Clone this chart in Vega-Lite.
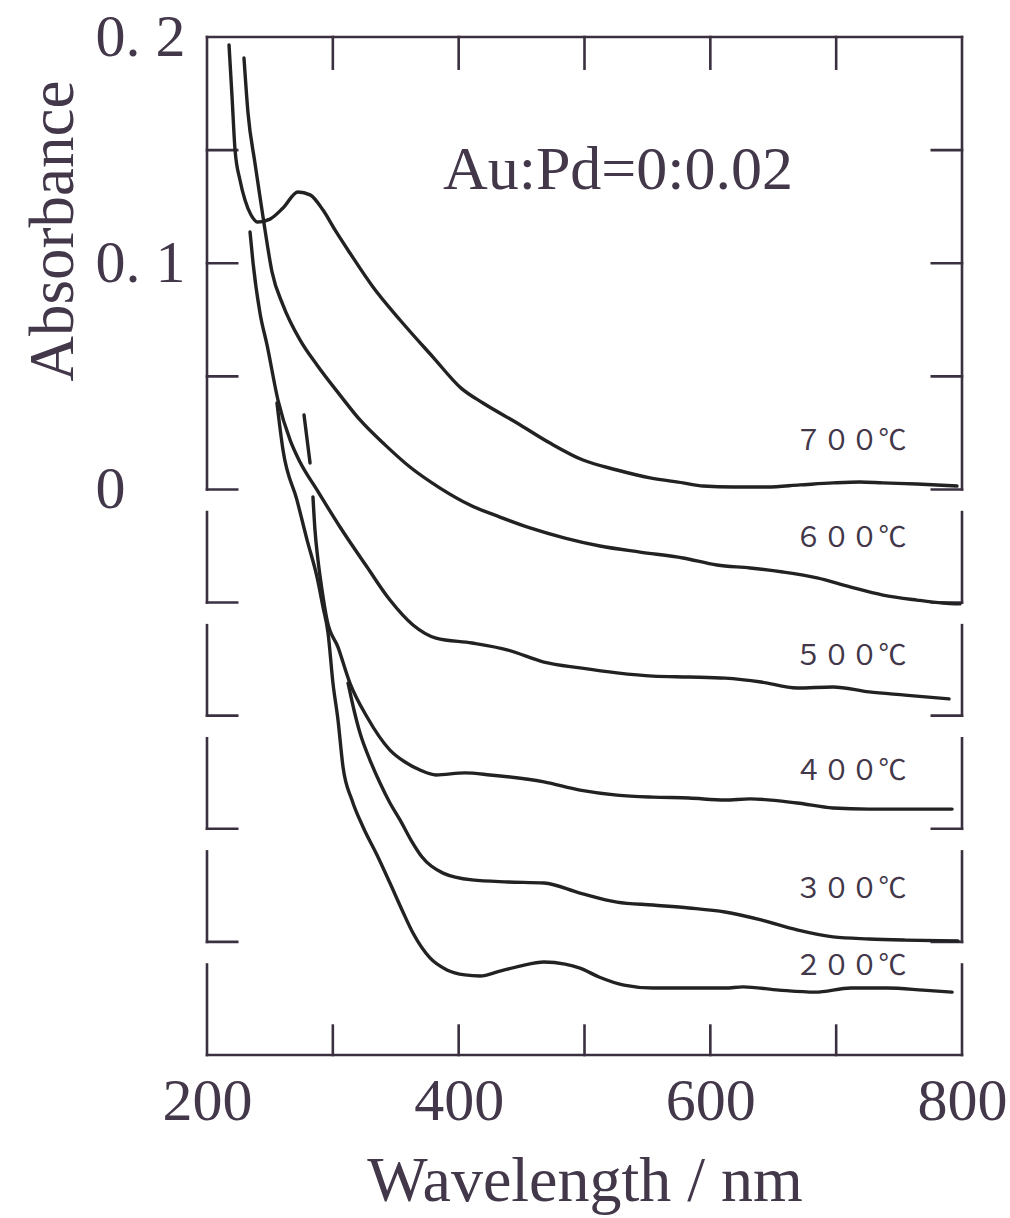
{
  "$schema": "https://vega.github.io/schema/vega-lite/v6.json",
  "width": 755,
  "height": 1018,
  "autosize": {"type": "none"},
  "padding": {"left": 207, "top": 37, "right": 48, "bottom": 163},
  "background": "#ffffff",
  "config": {
    "view": {"stroke": null},
    "font": "Liberation Serif",
    "axisX": {
      "ticks": false, "domain": false, "grid": false,
      "labelFont": "Liberation Serif", "labelFontSize": 60, "labelColor": "#43374a",
      "labelPadding": 17, "labelFlush": false, "labelOverlap": false, "labelBound": false,
      "titleFont": "Liberation Serif", "titleFontSize": 64,
      "titleFontWeight": "normal", "titleColor": "#43374a", "titlePadding": 18
    },
    "axisY": {
      "ticks": false, "domain": false, "grid": false,
      "labelFont": "Liberation Serif", "labelFontSize": 60, "labelColor": "#43374a",
      "labelAlign": "left", "labelBaseline": "middle", "labelPadding": 112,
      "labelFlush": false, "labelOverlap": false, "labelBound": false,
      "titleFont": "Liberation Serif", "titleFontSize": 63,
      "titleFontWeight": "normal", "titleColor": "#43374a",
      "titleAngle": 270, "titleAlign": "right", "titleBaseline": "alphabetic",
      "titleX": -135, "titleY": 43
    }
  },
  "datasets": {
    "frame": [
      {"x": 200, "x2": 800, "y": 0.2, "y2": 0.2},
      {"x": 200, "x2": 800, "y": -0.25, "y2": -0.25},
      {"x": 200, "x2": 200, "y": 0, "y2": 0.2},
      {"x": 800, "x2": 800, "y": 0, "y2": 0.2},
      {"x": 200, "x2": 224, "y": 0, "y2": 0},
      {"x": 200, "x2": 224, "y": 0.05, "y2": 0.05},
      {"x": 200, "x2": 224, "y": 0.1, "y2": 0.1},
      {"x": 200, "x2": 224, "y": 0.15, "y2": 0.15},
      {"x": 776, "x2": 800, "y": 0, "y2": 0},
      {"x": 776, "x2": 800, "y": 0.05, "y2": 0.05},
      {"x": 776, "x2": 800, "y": 0.1, "y2": 0.1},
      {"x": 776, "x2": 800, "y": 0.15, "y2": 0.15},
      {"x": 300, "x2": 300, "y": 0.2, "y2": 0.186},
      {"x": 400, "x2": 400, "y": 0.2, "y2": 0.186},
      {"x": 500, "x2": 500, "y": 0.2, "y2": 0.186},
      {"x": 600, "x2": 600, "y": 0.2, "y2": 0.186},
      {"x": 700, "x2": 700, "y": 0.2, "y2": 0.186},
      {"x": 300, "x2": 300, "y": -0.25, "y2": -0.237},
      {"x": 400, "x2": 400, "y": -0.25, "y2": -0.237},
      {"x": 500, "x2": 500, "y": -0.25, "y2": -0.237},
      {"x": 600, "x2": 600, "y": -0.25, "y2": -0.237},
      {"x": 700, "x2": 700, "y": -0.25, "y2": -0.237},
      {"x": 200, "x2": 200, "y": -0.01, "y2": -0.05},
      {"x": 200, "x2": 200, "y": -0.06, "y2": -0.1},
      {"x": 200, "x2": 200, "y": -0.11, "y2": -0.15},
      {"x": 200, "x2": 200, "y": -0.16, "y2": -0.2},
      {"x": 200, "x2": 200, "y": -0.21, "y2": -0.25},
      {"x": 200, "x2": 224, "y": -0.05, "y2": -0.05},
      {"x": 200, "x2": 224, "y": -0.1, "y2": -0.1},
      {"x": 200, "x2": 224, "y": -0.15, "y2": -0.15},
      {"x": 200, "x2": 224, "y": -0.2, "y2": -0.2},
      {"x": 800, "x2": 800, "y": -0.01, "y2": -0.05},
      {"x": 800, "x2": 800, "y": -0.06, "y2": -0.1},
      {"x": 800, "x2": 800, "y": -0.11, "y2": -0.15},
      {"x": 800, "x2": 800, "y": -0.16, "y2": -0.2},
      {"x": 800, "x2": 800, "y": -0.21, "y2": -0.25},
      {"x": 776, "x2": 800, "y": -0.05, "y2": -0.05},
      {"x": 776, "x2": 800, "y": -0.1, "y2": -0.1},
      {"x": 776, "x2": 800, "y": -0.15, "y2": -0.15},
      {"x": 776, "x2": 800, "y": -0.2, "y2": -0.2}
    ],
    "curves": [
      {"series": "700", "nm": 217.5, "abs": 0.1965},
      {"series": "700", "nm": 219.9, "abs": 0.1735},
      {"series": "700", "nm": 222.3, "abs": 0.15},
      {"series": "700", "nm": 226.2, "abs": 0.1368},
      {"series": "700", "nm": 230.2, "abs": 0.1279},
      {"series": "700", "nm": 235.0, "abs": 0.1213},
      {"series": "700", "nm": 240.5, "abs": 0.1182},
      {"series": "700", "nm": 250.1, "abs": 0.1195},
      {"series": "700", "nm": 260.4, "abs": 0.1244},
      {"series": "700", "nm": 272.3, "abs": 0.1315},
      {"series": "700", "nm": 281.9, "abs": 0.1302},
      {"series": "700", "nm": 292.2, "abs": 0.1235},
      {"series": "700", "nm": 301.7, "abs": 0.1147},
      {"series": "700", "nm": 313.6, "abs": 0.1045},
      {"series": "700", "nm": 331.9, "abs": 0.0895},
      {"series": "700", "nm": 353.4, "abs": 0.0749},
      {"series": "700", "nm": 379.6, "abs": 0.0585},
      {"series": "700", "nm": 401.9, "abs": 0.0448},
      {"series": "700", "nm": 419.3, "abs": 0.0382},
      {"series": "700", "nm": 446.4, "abs": 0.0294},
      {"series": "700", "nm": 472.6, "abs": 0.0205},
      {"series": "700", "nm": 498.8, "abs": 0.013},
      {"series": "700", "nm": 525.8, "abs": 0.0086},
      {"series": "700", "nm": 552.1, "abs": 0.0051},
      {"series": "700", "nm": 578.3, "abs": 0.0029},
      {"series": "700", "nm": 594.2, "abs": 0.0015},
      {"series": "700", "nm": 618.0, "abs": 0.0011},
      {"series": "700", "nm": 645.0, "abs": 0.0011},
      {"series": "700", "nm": 671.3, "abs": 0.002},
      {"series": "700", "nm": 697.5, "abs": 0.0029},
      {"series": "700", "nm": 718.9, "abs": 0.0033},
      {"series": "700", "nm": 737.2, "abs": 0.0029},
      {"series": "700", "nm": 764.2, "abs": 0.0024},
      {"series": "700", "nm": 796.0, "abs": 0.0015},

      {"series": "600", "nm": 229.4, "abs": 0.1907},
      {"series": "600", "nm": 232.6, "abs": 0.1664},
      {"series": "600", "nm": 238.1, "abs": 0.1443},
      {"series": "600", "nm": 243.7, "abs": 0.1235},
      {"series": "600", "nm": 246.1, "abs": 0.1147},
      {"series": "600", "nm": 251.7, "abs": 0.0961},
      {"series": "600", "nm": 260.4, "abs": 0.0815},
      {"series": "600", "nm": 273.9, "abs": 0.0661},
      {"series": "600", "nm": 287.4, "abs": 0.055},
      {"series": "600", "nm": 305.7, "abs": 0.0417},
      {"series": "600", "nm": 321.6, "abs": 0.0307},
      {"series": "600", "nm": 341.5, "abs": 0.0197},
      {"series": "600", "nm": 361.3, "abs": 0.0099},
      {"series": "600", "nm": 385.2, "abs": 0.0006},
      {"series": "600", "nm": 409.0, "abs": -0.0069},
      {"series": "600", "nm": 432.8, "abs": -0.0122},
      {"series": "600", "nm": 456.7, "abs": -0.017},
      {"series": "600", "nm": 484.5, "abs": -0.0215},
      {"series": "600", "nm": 512.3, "abs": -0.025},
      {"series": "600", "nm": 544.1, "abs": -0.0277},
      {"series": "600", "nm": 578.3, "abs": -0.0303},
      {"series": "600", "nm": 605.3, "abs": -0.0334},
      {"series": "600", "nm": 631.5, "abs": -0.0347},
      {"series": "600", "nm": 657.7, "abs": -0.0365},
      {"series": "600", "nm": 684.8, "abs": -0.0391},
      {"series": "600", "nm": 711.0, "abs": -0.0431},
      {"series": "600", "nm": 737.2, "abs": -0.0467},
      {"series": "600", "nm": 764.2, "abs": -0.0489},
      {"series": "600", "nm": 784.9, "abs": -0.0502},
      {"series": "600", "nm": 798.4, "abs": -0.0506},

      {"series": "500", "nm": 234.2, "abs": 0.1138},
      {"series": "500", "nm": 236.6, "abs": 0.1001},
      {"series": "500", "nm": 242.1, "abs": 0.078},
      {"series": "500", "nm": 247.7, "abs": 0.0639},
      {"series": "500", "nm": 256.4, "abs": 0.0395},
      {"series": "500", "nm": 266.0, "abs": 0.0219},
      {"series": "500", "nm": 273.9, "abs": 0.0121},
      {"series": "500", "nm": 287.4, "abs": -0.0002},
      {"series": "500", "nm": 305.7, "abs": -0.0166},
      {"series": "500", "nm": 327.2, "abs": -0.0343},
      {"series": "500", "nm": 345.4, "abs": -0.0489},
      {"series": "500", "nm": 363.7, "abs": -0.0599},
      {"series": "500", "nm": 382.0, "abs": -0.0657},
      {"series": "500", "nm": 410.6, "abs": -0.0679},
      {"series": "500", "nm": 439.2, "abs": -0.071},
      {"series": "500", "nm": 467.8, "abs": -0.0763},
      {"series": "500", "nm": 496.4, "abs": -0.0789},
      {"series": "500", "nm": 525.8, "abs": -0.0811},
      {"series": "500", "nm": 554.4, "abs": -0.0825},
      {"series": "500", "nm": 583.0, "abs": -0.0829},
      {"series": "500", "nm": 611.7, "abs": -0.0834},
      {"series": "500", "nm": 640.3, "abs": -0.0851},
      {"series": "500", "nm": 668.9, "abs": -0.0878},
      {"series": "500", "nm": 697.5, "abs": -0.0873},
      {"series": "500", "nm": 726.1, "abs": -0.0895},
      {"series": "500", "nm": 754.7, "abs": -0.0909},
      {"series": "500", "nm": 789.7, "abs": -0.0926},

      {"series": "400", "nm": 284.2, "abs": -0.0033},
      {"series": "400", "nm": 285.8, "abs": -0.0179},
      {"series": "400", "nm": 288.2, "abs": -0.0312},
      {"series": "400", "nm": 291.4, "abs": -0.0444},
      {"series": "400", "nm": 295.4, "abs": -0.0577},
      {"series": "400", "nm": 304.1, "abs": -0.0697},
      {"series": "400", "nm": 313.6, "abs": -0.0856},
      {"series": "400", "nm": 327.2, "abs": -0.1006},
      {"series": "400", "nm": 345.4, "abs": -0.1152},
      {"series": "400", "nm": 357.4, "abs": -0.1205},
      {"series": "400", "nm": 369.3, "abs": -0.124},
      {"series": "400", "nm": 382.0, "abs": -0.1262},
      {"series": "400", "nm": 405.0, "abs": -0.1253},
      {"series": "400", "nm": 424.9, "abs": -0.1262},
      {"series": "400", "nm": 467.8, "abs": -0.1293},
      {"series": "400", "nm": 496.4, "abs": -0.1329},
      {"series": "400", "nm": 525.8, "abs": -0.1351},
      {"series": "400", "nm": 554.4, "abs": -0.136},
      {"series": "400", "nm": 583.0, "abs": -0.1364},
      {"series": "400", "nm": 611.7, "abs": -0.1373},
      {"series": "400", "nm": 631.5, "abs": -0.1368},
      {"series": "400", "nm": 668.9, "abs": -0.1386},
      {"series": "400", "nm": 697.5, "abs": -0.1408},
      {"series": "400", "nm": 726.1, "abs": -0.1413},
      {"series": "400", "nm": 754.7, "abs": -0.1413},
      {"series": "400", "nm": 792.1, "abs": -0.1413},

      {"series": "300", "nm": 312.1, "abs": -0.0856},
      {"series": "300", "nm": 316.8, "abs": -0.0975},
      {"series": "300", "nm": 321.6, "abs": -0.1077},
      {"series": "300", "nm": 329.5, "abs": -0.1196},
      {"series": "300", "nm": 337.5, "abs": -0.1298},
      {"series": "300", "nm": 345.4, "abs": -0.1386},
      {"series": "300", "nm": 353.4, "abs": -0.1461},
      {"series": "300", "nm": 362.1, "abs": -0.155},
      {"series": "300", "nm": 370.9, "abs": -0.1625},
      {"series": "300", "nm": 387.6, "abs": -0.1696},
      {"series": "300", "nm": 410.6, "abs": -0.1726},
      {"series": "300", "nm": 439.2, "abs": -0.1735},
      {"series": "300", "nm": 467.8, "abs": -0.174},
      {"series": "300", "nm": 496.4, "abs": -0.1784},
      {"series": "300", "nm": 525.8, "abs": -0.1824},
      {"series": "300", "nm": 554.4, "abs": -0.1837},
      {"series": "300", "nm": 583.0, "abs": -0.185},
      {"series": "300", "nm": 611.7, "abs": -0.1868},
      {"series": "300", "nm": 640.3, "abs": -0.1903},
      {"series": "300", "nm": 668.9, "abs": -0.1947},
      {"series": "300", "nm": 697.5, "abs": -0.1978},
      {"series": "300", "nm": 726.1, "abs": -0.1987},
      {"series": "300", "nm": 754.7, "abs": -0.1992},
      {"series": "300", "nm": 796.8, "abs": -0.1996},

      {"series": "200", "nm": 255.6, "abs": 0.0382},
      {"series": "200", "nm": 260.4, "abs": 0.0174},
      {"series": "200", "nm": 271.5, "abs": -0.0047},
      {"series": "200", "nm": 279.5, "abs": -0.0223},
      {"series": "200", "nm": 287.4, "abs": -0.0387},
      {"series": "200", "nm": 292.2, "abs": -0.052},
      {"series": "200", "nm": 296.2, "abs": -0.0635},
      {"series": "200", "nm": 300.1, "abs": -0.0856},
      {"series": "200", "nm": 304.1, "abs": -0.1019},
      {"series": "200", "nm": 308.1, "abs": -0.1227},
      {"series": "200", "nm": 315.2, "abs": -0.1373},
      {"series": "200", "nm": 324.0, "abs": -0.1492},
      {"series": "200", "nm": 335.1, "abs": -0.1616},
      {"series": "200", "nm": 345.4, "abs": -0.174},
      {"series": "200", "nm": 355.0, "abs": -0.1859},
      {"series": "200", "nm": 363.7, "abs": -0.1961},
      {"series": "200", "nm": 377.2, "abs": -0.2071},
      {"series": "200", "nm": 390.7, "abs": -0.2124},
      {"series": "200", "nm": 405.0, "abs": -0.2146},
      {"series": "200", "nm": 417.0, "abs": -0.2151},
      {"series": "200", "nm": 432.8, "abs": -0.2129},
      {"series": "200", "nm": 448.7, "abs": -0.2107},
      {"series": "200", "nm": 467.8, "abs": -0.2089},
      {"series": "200", "nm": 484.5, "abs": -0.2098},
      {"series": "200", "nm": 496.4, "abs": -0.2116},
      {"series": "200", "nm": 511.5, "abs": -0.2155},
      {"series": "200", "nm": 531.4, "abs": -0.2191},
      {"series": "200", "nm": 554.4, "abs": -0.2204},
      {"series": "200", "nm": 583.0, "abs": -0.2204},
      {"series": "200", "nm": 611.7, "abs": -0.2204},
      {"series": "200", "nm": 626.0, "abs": -0.2199},
      {"series": "200", "nm": 654.6, "abs": -0.2213},
      {"series": "200", "nm": 683.2, "abs": -0.2222},
      {"series": "200", "nm": 711.8, "abs": -0.2204},
      {"series": "200", "nm": 740.4, "abs": -0.2204},
      {"series": "200", "nm": 769.0, "abs": -0.2213},
      {"series": "200", "nm": 792.1, "abs": -0.2222},

      {"series": "mark", "nm": 277.1, "abs": 0.0329},
      {"series": "mark", "nm": 281.9, "abs": 0.0117}
    ],
    "labels": [
      {"label": "７００℃", "nm": 756, "abs": 0.021},
      {"label": "６００℃", "nm": 756, "abs": -0.0219},
      {"label": "５００℃", "nm": 756, "abs": -0.0741},
      {"label": "４００℃", "nm": 756, "abs": -0.1249},
      {"label": "３００℃", "nm": 756, "abs": -0.1771},
      {"label": "２００℃", "nm": 756, "abs": -0.2111}
    ],
    "note": [
      {"label": "Au:Pd=0:0.02", "nm": 526.6, "abs": 0.1412}
    ]
  },
  "layer": [
    {
      "data": {"name": "frame"},
      "mark": {"type": "rule", "color": "#3b3040", "strokeWidth": 2.6, "strokeCap": "square"},
      "encoding": {
        "x": {"field": "x", "type": "quantitative", "scale": {"domain": [200, 800], "nice": false, "zero": false},
              "axis": {"values": [200, 400, 600, 800], "title": "Wavelength / nm"}},
        "x2": {"field": "x2"},
        "y": {"field": "y", "type": "quantitative", "scale": {"domain": [-0.25, 0.2], "nice": false, "zero": false},
              "axis": {"values": [0, 0.1, 0.2], "labelExpr": "datum.value == 0 ? '0' : (datum.value > 0.15 ? '0. 2' : '0. 1')", "title": "Absorbance"}},
        "y2": {"field": "y2"}
      }
    },
    {
      "data": {"name": "curves"},
      "mark": {"type": "line", "interpolate": "monotone", "color": "#222222", "strokeWidth": 3.4, "strokeCap": "round", "strokeJoin": "round"},
      "encoding": {
        "x": {"field": "nm", "type": "quantitative",
              "axis": {"values": [200, 400, 600, 800], "title": "Wavelength / nm"}},
        "y": {"field": "abs", "type": "quantitative",
              "axis": {"values": [0, 0.1, 0.2], "labelExpr": "datum.value == 0 ? '0' : (datum.value > 0.15 ? '0. 2' : '0. 1')", "title": "Absorbance"}},
        "detail": {"field": "series", "type": "nominal"}
      }
    },
    {
      "data": {"name": "labels"},
      "mark": {"type": "text", "align": "right", "baseline": "middle", "font": "Noto Sans CJK JP", "fontSize": 28, "color": "#43374a"},
      "encoding": {
        "x": {"field": "nm", "type": "quantitative",
              "axis": {"values": [200, 400, 600, 800], "title": "Wavelength / nm"}},
        "y": {"field": "abs", "type": "quantitative",
              "axis": {"values": [0, 0.1, 0.2], "labelExpr": "datum.value == 0 ? '0' : (datum.value > 0.15 ? '0. 2' : '0. 1')", "title": "Absorbance"}},
        "text": {"field": "label"}
      }
    },
    {
      "data": {"name": "note"},
      "mark": {"type": "text", "align": "center", "baseline": "middle", "font": "Liberation Serif", "fontSize": 62, "color": "#43374a"},
      "encoding": {
        "x": {"field": "nm", "type": "quantitative",
              "axis": {"values": [200, 400, 600, 800], "title": "Wavelength / nm"}},
        "y": {"field": "abs", "type": "quantitative",
              "axis": {"values": [0, 0.1, 0.2], "labelExpr": "datum.value == 0 ? '0' : (datum.value > 0.15 ? '0. 2' : '0. 1')", "title": "Absorbance"}},
        "text": {"field": "label"}
      }
    }
  ]
}
